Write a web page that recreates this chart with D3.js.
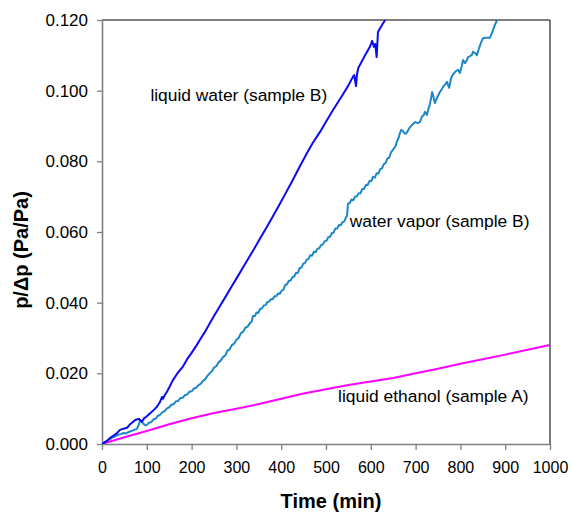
<!DOCTYPE html>
<html>
<head>
<meta charset="utf-8">
<script src="https://cdn.jsdelivr.net/npm/d3@7"></script>
<style>
  html, body { margin: 0; padding: 0; background: #fff; }
  svg { display: block; font-family: Arial, "Liberation Sans", sans-serif; }
</style>
</head>
<body>
<svg id="chart" width="571" height="514"></svg>
<script>
// ---------- data ----------
const xTicks = [0, 100, 200, 300, 400, 500, 600, 700, 800, 900, 1000];
const yTicks = [0, 0.02, 0.04, 0.06, 0.08, 0.10, 0.12];

const seriesNames = ["liquid water (sample B)", "water vapor (sample B)", "liquid ethanol (sample A)"];

// [time (min), p/Δp]
const waterData = [[0,0],[10,0.0008],[18,0.0017],[25,0.0023],[33,0.0030],[40,0.0040],[45,0.0042],[50,0.0044],[56,0.0046],[62,0.0055],[67,0.0060],[74,0.0068],[79,0.0070],[83,0.0071],[86,0.0067],[89,0.0063],[92,0.0068],[94,0.0073],[98,0.0076],[103,0.0082],[110,0.0090],[117,0.0098],[123,0.0106],[129,0.0118],[134,0.0133],[136,0.0128],[140,0.0138],[145,0.0148],[150,0.0160],[158,0.0180],[170,0.0203],[181,0.0220],[190,0.0240],[200,0.0258],[210,0.0277],[219,0.0296],[230,0.0318],[240,0.0340],[250,0.0362],[263,0.0390],[275,0.0415],[290,0.0447],[300,0.0468],[315,0.0500],[330,0.0532],[340,0.0553],[353,0.0582],[365,0.0608],[380,0.0641],[395,0.0675],[410,0.0710],[425,0.0745],[440,0.0782],[457,0.0822],[470,0.0851],[487,0.0884],[500,0.0912],[516,0.0946],[538,0.0990],[550,0.1015],[560,0.1039],[563,0.1044],[567,0.1013],[569,0.1045],[572,0.1064],[585,0.1095],[598,0.1124],[603,0.1141],[607,0.1124],[610,0.1132],[613,0.1095],[616,0.1166],[625,0.1186],[632,0.1200]];

const vaporData = [[0,0],[6,0.0005],[12,0.0010],[18,0.0014],[24,0.0019],[30,0.0022],[36,0.0026],[42,0.0028],[48,0.0031],[54,0.0030],[60,0.0034],[66,0.0037],[72,0.0040],[78,0.0043],[82,0.0055],[85,0.0066],[88,0.0064],[92,0.0058],[96,0.0053],[100,0.0054],[105,0.0060],[110,0.0062],[115,0.0070],[120,0.0072],[125,0.0080],[130,0.0083],[135,0.0090],[140,0.0093],[145,0.0101],[150,0.0104],[155,0.0111],[160,0.0113],[165,0.0121],[170,0.0122],[175,0.0130],[180,0.0131],[185,0.0138],[190,0.0140],[195,0.0148],[200,0.0149],[205,0.0157],[210,0.0159],[215,0.0166],[220,0.0170],[225,0.0178],[230,0.0183],[235,0.0192],[240,0.0200],[245,0.0205],[250,0.0216],[255,0.0220],[260,0.0231],[265,0.0236],[270,0.0246],[275,0.0250],[280,0.0264],[285,0.0268],[290,0.0280],[295,0.0284],[300,0.0295],[305,0.0300],[310,0.0314],[315,0.0318],[320,0.0329],[325,0.0332],[330,0.0342],[334,0.0346],[337,0.0362],[341,0.0362],[345,0.0372],[349,0.0371],[353,0.0382],[357,0.0384],[361,0.0392],[365,0.0393],[369,0.0402],[373,0.0403],[377,0.0410],[381,0.0410],[385,0.0418],[389,0.0418],[393,0.0426],[397,0.0425],[401,0.0434],[405,0.0437],[409,0.0450],[413,0.0452],[417,0.0462],[421,0.0463],[425,0.0472],[429,0.0474],[433,0.0484],[437,0.0484],[441,0.0498],[445,0.0499],[449,0.0510],[453,0.0512],[457,0.0522],[461,0.0524],[465,0.0534],[469,0.0533],[473,0.0544],[477,0.0543],[481,0.0553],[485,0.0554],[489,0.0563],[493,0.0565],[497,0.0574],[501,0.0575],[505,0.0585],[509,0.0586],[513,0.0597],[517,0.0598],[521,0.0610],[525,0.0610],[529,0.0620],[533,0.0619],[537,0.0628],[541,0.0630],[545,0.0643],[547,0.0646],[549,0.0680],[553,0.0682],[557,0.0692],[561,0.0690],[565,0.0700],[569,0.0701],[573,0.0710],[577,0.0709],[581,0.0722],[585,0.0722],[589,0.0733],[593,0.0733],[597,0.0744],[601,0.0744],[605,0.0756],[609,0.0754],[613,0.0766],[617,0.0765],[621,0.0778],[625,0.0780],[629,0.0792],[633,0.0795],[637,0.0808],[641,0.0810],[645,0.0825],[650,0.0834],[655,0.0842],[658,0.0855],[662,0.0866],[665,0.0880],[668,0.0889],[672,0.0885],[676,0.0878],[680,0.0880],[686,0.0894],[692,0.0903],[699,0.0911],[705,0.0908],[710,0.0912],[714,0.0926],[718,0.0931],[721,0.0940],[725,0.0931],[729,0.0950],[732,0.0962],[737,0.0996],[740,0.0982],[743,0.0965],[748,0.0980],[754,0.0996],[758,0.1003],[761,0.1010],[766,0.1018],[770,0.1025],[775,0.1008],[779,0.1035],[784,0.1047],[788,0.1053],[792,0.1057],[795,0.1059],[799,0.1050],[803,0.1070],[806,0.1087],[810,0.1078],[814,0.1085],[817,0.1095],[822,0.1098],[826,0.1102],[828,0.1110],[833,0.1106],[837,0.1100],[841,0.1118],[844,0.1129],[848,0.1142],[851,0.1149],[858,0.1150],[866,0.1150],[870,0.1162],[873,0.1172],[877,0.1186],[882,0.1200]];

const ethanolData = [[0,0],[50,0.0019],[100,0.0037],[150,0.0056],[200,0.0073],[250,0.0088],[300,0.0100],[350,0.0113],[400,0.0128],[450,0.0143],[500,0.0155],[550,0.0167],[600,0.0177],[650,0.0187],[700,0.0200],[750,0.0213],[800,0.0227],[850,0.0240],[900,0.0253],[950,0.0267],[1000,0.0280]];

// ---------- layout ----------
const svg = d3.select("#chart");
const mLeft = 102, mRight = 550, mTop = 20, mBottom = 444;

const x = d3.scaleLinear().domain([0, 1000]).range([mLeft, mRight]);
const y = d3.scaleLinear().domain([0, 0.12]).range([mBottom, mTop]);

svg.append("defs").append("clipPath").attr("id", "plot")
  .append("rect").attr("x", mLeft).attr("y", mTop - 1)
  .attr("width", mRight - mLeft).attr("height", mBottom - mTop + 1);

// frame (top and right)
svg.append("line").attr("x1", mLeft).attr("x2", mRight).attr("y1", mTop).attr("y2", mTop)
  .attr("stroke", "#555").attr("stroke-width", 1.3);
svg.append("line").attr("x1", mRight).attr("x2", mRight).attr("y1", mTop).attr("y2", mBottom)
  .attr("stroke", "#333").attr("stroke-width", 1.3);

// axes
const yAxis = d3.axisLeft(y).tickValues(yTicks).tickFormat(d3.format(".3f"))
  .tickSize(5).tickSizeOuter(0).tickPadding(9);
const gy = svg.append("g").attr("transform", `translate(${mLeft},0)`).call(yAxis);

const xAxis = d3.axisBottom(x).tickValues(xTicks).tickFormat(d3.format("d"))
  .tickSize(6).tickSizeOuter(0);
const gx = svg.append("g").attr("transform", `translate(0,${mBottom})`).call(xAxis);

[gy, gx].forEach(g => {
  g.select(".domain").attr("stroke", "#808080").attr("stroke-width", 1.6);
  g.selectAll(".tick line").attr("stroke", "#808080").attr("stroke-width", 1.3);
  g.selectAll(".tick text").attr("fill", "#000").attr("font-family", "Arial, 'Liberation Sans', sans-serif");
});
gy.selectAll(".tick text").attr("font-size", 17);
gx.selectAll(".tick text").attr("font-size", 16).attr("y", 29).attr("dy", 0);

// lines
const plot = svg.append("g").attr("clip-path", "url(#plot)");
const line = d3.line().x(d => x(d[0])).y(d => y(d[1]));

plot.append("path").datum(ethanolData).attr("d", line)
  .attr("fill", "none").attr("stroke", "#FF00FF").attr("stroke-width", 2);
plot.append("path").datum(vaporData).attr("d", line)
  .attr("fill", "none").attr("stroke", "#1C87C9").attr("stroke-width", 2).attr("stroke-linejoin", "round");
plot.append("path").datum(waterData).attr("d", line)
  .attr("fill", "none").attr("stroke", "#0A0AF0").attr("stroke-width", 2).attr("stroke-linejoin", "round");

// annotations
const ann = [
  { text: seriesNames[0], t: 108, v: 0.0972 },
  { text: seriesNames[1], t: 553, v: 0.0613 },
  { text: seriesNames[2], t: 527, v: 0.0119 }
];
svg.selectAll("text.ann").data(ann).enter().append("text")
  .attr("class", "ann")
  .attr("x", d => x(d.t)).attr("y", d => y(d.v))
  .attr("font-size", 17.4).attr("fill", "#000")
  .text(d => d.text);

// axis titles
svg.append("text").attr("x", 331).attr("y", 508).attr("text-anchor", "middle")
  .attr("font-size", 20).attr("font-weight", "bold").text("Time (min)");
svg.append("text").attr("transform", "translate(28,250) rotate(-90)")
  .attr("text-anchor", "middle").attr("font-size", 20).attr("font-weight", "bold")
  .text("p/\u0394p (Pa/Pa)");
</script>
</body>
</html>
